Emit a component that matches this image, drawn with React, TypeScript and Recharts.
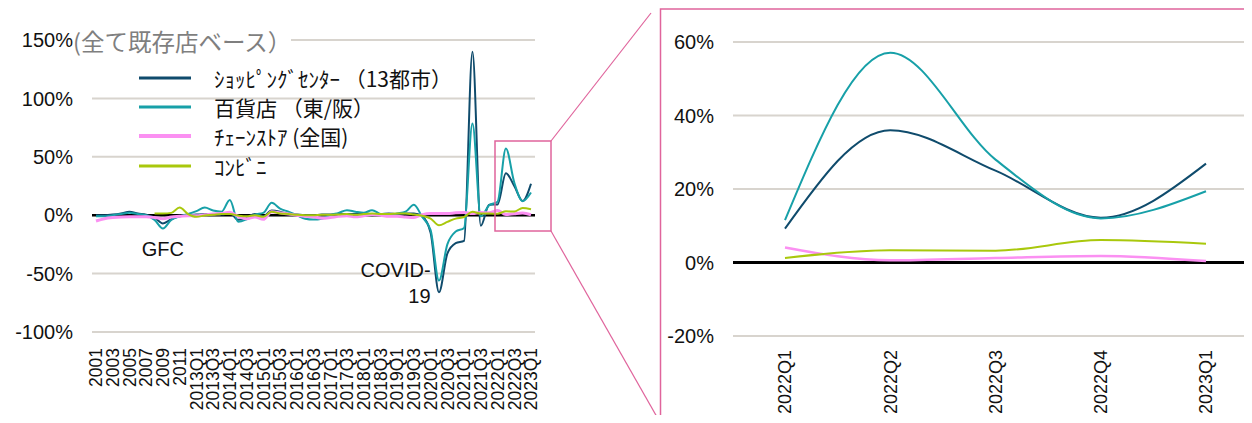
import { CartesianGrid, Legend, Line, LineChart, ReferenceDot, ReferenceLine, XAxis, YAxis } from 'recharts'

const categories = [
  '2001', '2002', '2003', '2004', '2005', '2006', '2007', '2008', '2009', '2010', '2011', '2012',
  '2013Q1', '2013Q2', '2013Q3', '2013Q4', '2014Q1', '2014Q2', '2014Q3', '2014Q4',
  '2015Q1', '2015Q2', '2015Q3', '2015Q4', '2016Q1', '2016Q2', '2016Q3', '2016Q4',
  '2017Q1', '2017Q2', '2017Q3', '2017Q4', '2018Q1', '2018Q2', '2018Q3', '2018Q4',
  '2019Q1', '2019Q2', '2019Q3', '2019Q4', '2020Q1', '2020Q2', '2020Q3', '2020Q4',
  '2021Q1', '2021Q2', '2021Q3', '2021Q4', '2022Q1', '2022Q2', '2022Q3', '2022Q4', '2023Q1',
]

// y/y %, 既存店ベース
const shoppingCenter = [
  0, 0, 0.5, 1.5, 3, 1.5, 0.5, -2, -7, -3.5, -1, 0,
  0.5, 1, 1, 0.5, 2, -4, -2, 1,
  -1, 4, 3, 1, 0.5, 0, 0, 0.5,
  0.5, 1, 1, 1, 1.5, 1, 1, 1.5,
  1, 1.5, 1.5, -1, -15, -66, -33, -24,
  -22, 140, -9, 9, 9.2, 36, 25, 12.2, 26.9,
]
const departmentStore = [
  -1, -1, 0, 1, 2, 1, 0, -4, -11.4, -4, -1, 1,
  3.5, 6.5, 4, 3, 13, -5.7, -3.5, 0.5,
  2, 10.6, 5.7, 3, 0, -3, -3.7, -3,
  0, 2, 4.3, 3, 2, 4.3, 1, 0,
  1.5, 3, 9, -1.5, -12.8, -56, -25, -14,
  -11, 78.6, -1, 8.5, 11.5, 57.1, 28, 12, 19.4,
]
const chainStore = [
  -5, -3, -2, -1.5, -1.4, -1.4, -1.4, -2, -3, -1.5, -1, -0.5,
  -0.5, 0.3, 1, 1.4, 2.6, -1, -3, -1.5,
  -3.5, 3, 2, 1, 0, -1, -1.4, -2.6,
  -2, -1, -0.5, -1.4, -0.5, 0.5, 0, -1,
  -1, -1.5, -2, 0.5, 1.4, 1.4, 1.4, 2,
  2.3, 1.4, 2.3, 2, 4.1, 0.6, 1.25, 1.8, 0.4,
]
const convenience = [
  null, null, null, null, null, null, null, 1.4, 1.4, 2, 6.5, 1,
  -1.4, -0.3, 0.3, 1, 1, -0.3, -1, 0,
  -1.4, 3, 1.4, 1, 0.3, 0, 0, 0.3,
  0.3, 0.6, 1, 0.3, 1, 1.4, 1, 1,
  1.4, 1.4, 0.6, -0.5, -2.9, -8.6, -5.7, -2.9,
  -1.5, 2.9, 1.4, 1.4, 1.25, 3.3, 3.2, 6.1, 5.1,
]

const leftTicks = [-100, -50, 0, 50, 100, 150]
const zoomTicks = [-20, 0, 20, 40, 60]
const zoomStart = '2022Q1'

const series = [
  { key: 'sc', name: 'ｼｮｯﾋﾟﾝｸﾞｾﾝﾀｰ （13都市）', color: '#0f4b6c', width: 2, values: shoppingCenter },
  { key: 'dept', name: '百貨店 （東/阪）', color: '#17a0a8', width: 2, values: departmentStore },
  { key: 'chain', name: 'ﾁｪｰﾝｽﾄｱ (全国)', color: '#fb90f2', width: 3, values: chainStore },
  { key: 'cvs', name: 'ｺﾝﾋﾞﾆ', color: '#a9c80c', width: 2, values: convenience },
]

const data = categories.map((cat, i) => {
  const row: Record<string, string | number | null> = { cat }
  series.forEach((s) => {
    row[s.key] = s.values[i]
  })
  return row
})
const zoomData = data.slice(categories.indexOf(zoomStart))

const LATIN = "'Liberation Sans', Arial, 'Noto Sans CJK JP', sans-serif"
const CJK = "'Noto Sans CJK JP', 'Liberation Sans', sans-serif"
const PINK = '#e0649c'
const GRID = '#d8d4ce'

function RotatedTick({ x, y, payload, fontSize }: any) {
  return (
    <text
      x={x}
      y={y}
      transform={`rotate(-90, ${x}, ${y})`}
      textAnchor="end"
      dy="0.36em"
      fontSize={fontSize}
      fontFamily={LATIN}
      fill="#111"
    >
      {payload.value}
    </text>
  )
}

function CovidLabel({ viewBox }: any) {
  const { x, y } = viewBox
  return (
    <text x={x} y={y} textAnchor="end" fontSize={20} fontFamily={LATIN} fill="#111">
      <tspan x={x} dy={-6}>COVID-</tspan>
      <tspan x={x} dy={26}>19</tspan>
    </text>
  )
}

function LegendBox() {
  return (
    <div style={{ fontFamily: CJK, fontSize: 21, color: '#111' }}>
      {series.map((s) => (
        <div key={s.key} style={{ display: 'flex', alignItems: 'center', height: 29.3, whiteSpace: 'nowrap' }}>
          <svg width={52} height={6} style={{ marginRight: 23 }}>
            <line x1={0} x2={52} y1={3} y2={3} stroke={s.color} strokeWidth={s.width + 0.8} />
          </svg>
          <span>{s.name}</span>
        </div>
      ))}
    </div>
  )
}

export default function App() {
  return (
    <div style={{ position: 'relative', width: 1252, height: 423, margin: -8, overflow: 'hidden', background: '#fff' }}>
      <div style={{ position: 'absolute', left: 0, top: 0 }}>
        <LineChart width={560} height={423} data={data} margin={{ top: 40, right: 25, bottom: 0, left: 22 }}>
          <CartesianGrid vertical={false} stroke={GRID} strokeWidth={2} />
          <XAxis
            dataKey="cat"
            interval={1}
            height={91}
            padding={{ left: 4, right: 4 }}
            axisLine={false}
            tickLine={false}
            tickSize={0}
            tickMargin={16}
            tick={<RotatedTick fontSize={17.5} />}
          />
          <YAxis
            width={70}
            domain={[-100, 150]}
            ticks={leftTicks}
            axisLine={false}
            tickLine={false}
            tickSize={0}
            tickMargin={19}
            tickFormatter={(v) => `${v}%`}
            tick={{ fontSize: 20, fontFamily: LATIN, fill: '#111' }}
          />
          <ReferenceLine y={0} stroke="#000" strokeWidth={2.5} />
          {series.map((s) => (
            <Line
              key={s.key}
              type="monotone"
              dataKey={s.key}
              name={s.name}
              stroke={s.color}
              strokeWidth={s.width}
              dot={false}
              isAnimationActive={false}
            />
          ))}
          <ReferenceDot
            x="2009"
            y={-29}
            r={0}
            fill="none"
            stroke="none"
            label={{ value: 'GFC', position: 'center', fontSize: 20, fontFamily: LATIN, fill: '#111' }}
          />
          <ReferenceDot x="2020Q1" y={-58} r={0} fill="none" stroke="none" label={<CovidLabel />} />
          <Legend
            layout="vertical"
            align="center"
            verticalAlign="middle"
            wrapperStyle={{ top: 63, left: 139, width: 380 }}
            content={() => <LegendBox />}
          />
        </LineChart>
      </div>

      <div
        style={{
          position: 'absolute',
          left: 73,
          top: 27,
          background: '#fff',
          color: '#7f7f7f',
          fontFamily: CJK,
          fontSize: 23.5,
          lineHeight: '28px',
          whiteSpace: 'nowrap',
        }}
      >
        (全て既存店ベース）
      </div>

      <div style={{ position: 'absolute', left: 660, top: 0 }}>
        <LineChart width={592} height={423} data={zoomData} margin={{ top: 42, right: 0, bottom: 0, left: 13 }}>
          <CartesianGrid vertical={false} stroke={GRID} strokeWidth={2} />
          <XAxis
            dataKey="cat"
            interval={0}
            height={87}
            padding={{ left: 52, right: 46 }}
            axisLine={false}
            tickLine={false}
            tickSize={0}
            tickMargin={14}
            tick={<RotatedTick fontSize={18} />}
          />
          <YAxis
            width={60}
            domain={[-20, 60]}
            ticks={zoomTicks}
            axisLine={false}
            tickLine={false}
            tickSize={0}
            tickMargin={19}
            tickFormatter={(v) => `${v}%`}
            tick={{ fontSize: 20, fontFamily: LATIN, fill: '#111' }}
          />
          <ReferenceLine y={0} stroke="#000" strokeWidth={3} />
          {series.map((s) => (
            <Line
              key={s.key}
              type="monotone"
              dataKey={s.key}
              name={s.name}
              stroke={s.color}
              strokeWidth={s.key === 'chain' ? 2.5 : 2}
              dot={false}
              isAnimationActive={false}
            />
          ))}
        </LineChart>
      </div>

      <svg width={1252} height={423} style={{ position: 'absolute', left: 0, top: 0, pointerEvents: 'none' }}>
        <rect x={495} y={141} width={56} height={90} fill="none" stroke={PINK} strokeWidth={1.5} />
        <line x1={551} y1={141} x2={651} y2={13} stroke={PINK} strokeWidth={1.2} />
        <line x1={551} y1={231} x2={657} y2={417} stroke={PINK} strokeWidth={1.2} />
        <polyline points="660.5,423 660.5,9 1252,9" fill="none" stroke={PINK} strokeWidth={1.5} />
      </svg>
    </div>
  )
}
